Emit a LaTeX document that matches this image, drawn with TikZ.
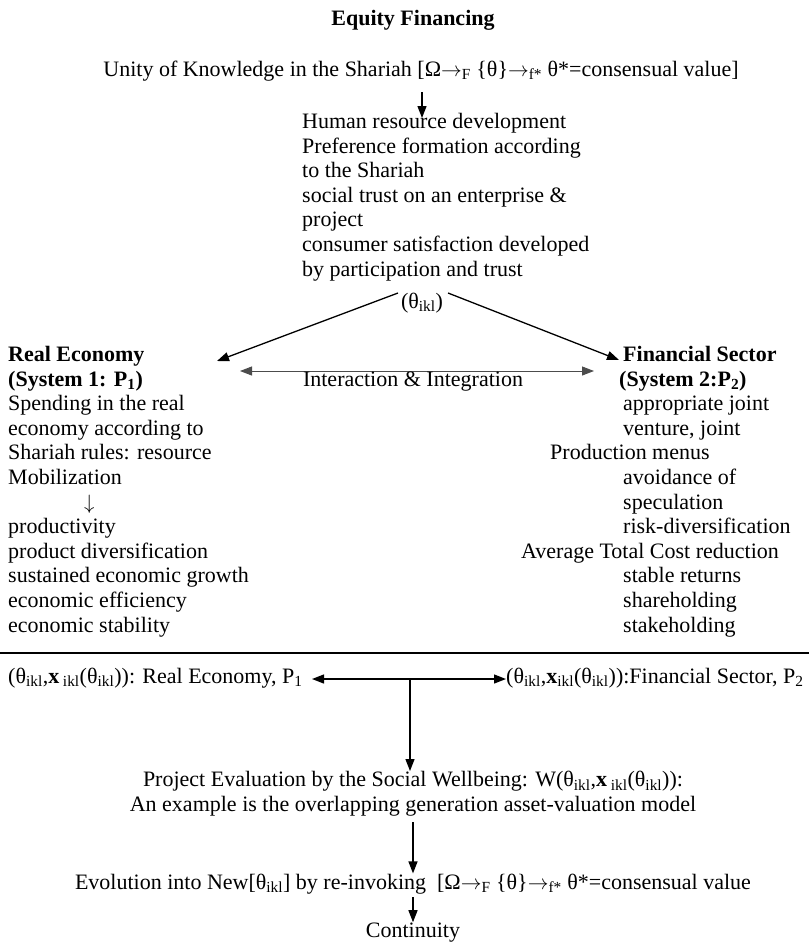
\documentclass[tikz,border=0pt]{standalone}
\usepackage{fontspec}
\setmainfont{Liberation Serif}
\usetikzlibrary{arrows.meta}
\tikzset{
  txt/.style={inner sep=0pt, font=\fontsize{22}{24.6}\selectfont},
  blk/.style={txt, align=left, anchor=north west},
  arr/.style={-{Triangle[length=12pt,width=9pt]}, line width=1.3pt},
  darr/.style={{Triangle[length=12pt,width=9pt]}-{Triangle[length=12pt,width=9pt]}, line width=1.3pt},
  garr/.style={{Triangle[length=12pt,width=9pt]}-{Triangle[length=12pt,width=9pt]}, line width=1pt, draw=gray!60!black, color=gray!60!black},
}
\newcommand{\sbs}[1]{\textsubscript{#1}}
\newcommand{\rar}{$\rightarrow$}
\begin{document}
\begin{tikzpicture}[x=1pt,y=-1pt]
\useasboundingbox (0,0) rectangle (809,943);
\node[txt, anchor=base] (title) at (413,25) {\textbf{Equity Financing}};
\node[txt, anchor=base] (unity) at (421,76) {Unity of Knowledge in the Shariah [Ω\rar\sbs{F} \{θ\}\rar\sbs{f*} θ*=consensual value]};
\node[blk] (human) at (302,113) {Human resource development\\Preference formation according\\to the Shariah\\social trust on an enterprise \&\\project\\consumer satisfaction developed\\by participation and trust};
\node[txt, anchor=base] (theta) at (422,308) {(θ\sbs{ikl})};
\coordinate (thl) at (398,293);
\coordinate (thr) at (448,293);
\node[blk] (real) at (8,346) {\textbf{Real Economy}\\\textbf{(System 1: P\sbs{1})}\\Spending in the real\\economy according to\\Shariah rules: resource\\Mobilization\\\hspace*{76pt}$\downarrow$\\productivity\\product diversification\\sustained economic growth\\economic efficiency\\economic stability};
\node[blk] (fin) at (521,346) {\hspace*{102pt}\textbf{Financial Sector}\\\hspace*{98pt}\textbf{(System 2:P\sbs{2})}\\\hspace*{102pt}appropriate joint\\\hspace*{102pt}venture, joint\\\hspace*{29pt}Production menus\\\hspace*{102pt}avoidance of\\\hspace*{102pt}speculation\\\hspace*{102pt}risk-diversification\\Average Total Cost reduction\\\hspace*{102pt}stable returns\\\hspace*{102pt}shareholding\\\hspace*{102pt}stakeholding};
\coordinate (realtip) at (217,361);
\coordinate (fintip) at (619,360);
\draw[arr] (thl) -- (realtip);
\draw[arr] (thr) -- (fintip);
\coordinate (ia) at (240,371);
\coordinate (ib) at (594,371);
\draw[garr] (ia) -- (ib);
\node[txt, anchor=base] (inter) at (413,386) {Interaction \& Integration};
\coordinate (a1) at (422,92);
\draw[arr] (a1) -- ([yshift=-5pt]human.north -| a1);
\coordinate (hl) at (0,653);
\coordinate (hr) at (809,653);
\draw[line width=2.6pt] (hl) -- (hr);
\node[txt, anchor=base west] (botl) at (8,683) {(θ\sbs{ikl},\textbf{x}\,\sbs{ikl}(θ\sbs{ikl})): Real Economy, P\sbs{1}};
\node[txt, anchor=base west] (botr) at (506,683) {(θ\sbs{ikl},\textbf{x}\sbs{ikl}(θ\sbs{ikl})):Financial Sector, P\sbs{2}};
\coordinate (bl) at (312,679);
\coordinate (bm) at (410,679);
\draw[darr] (bl) -- (botr.west |- bl);
\node[txt, align=center, anchor=north] (proj) at (413,771) {Project Evaluation by the Social Wellbeing: W(θ\sbs{ikl},\textbf{x}\,\sbs{ikl}(θ\sbs{ikl})):\\An example is the overlapping generation asset-valuation model};
\draw[arr] (bm) -- (proj.north -| bm);
\node[txt, anchor=base] (evol) at (413,889) {Evolution into New[θ\sbs{ikl}] by re-invoking~ [Ω\rar\sbs{F} \{θ\}\rar\sbs{f*} θ*=consensual value};
\coordinate (e1) at (413,822);
\draw[arr] (e1) -- (evol.north -| e1);
\node[txt, anchor=base] (cont) at (413,937) {Continuity};
\coordinate (c1) at (413,897);
\draw[arr] (c1) -- (cont.north -| c1);
\end{tikzpicture}
\end{document}
